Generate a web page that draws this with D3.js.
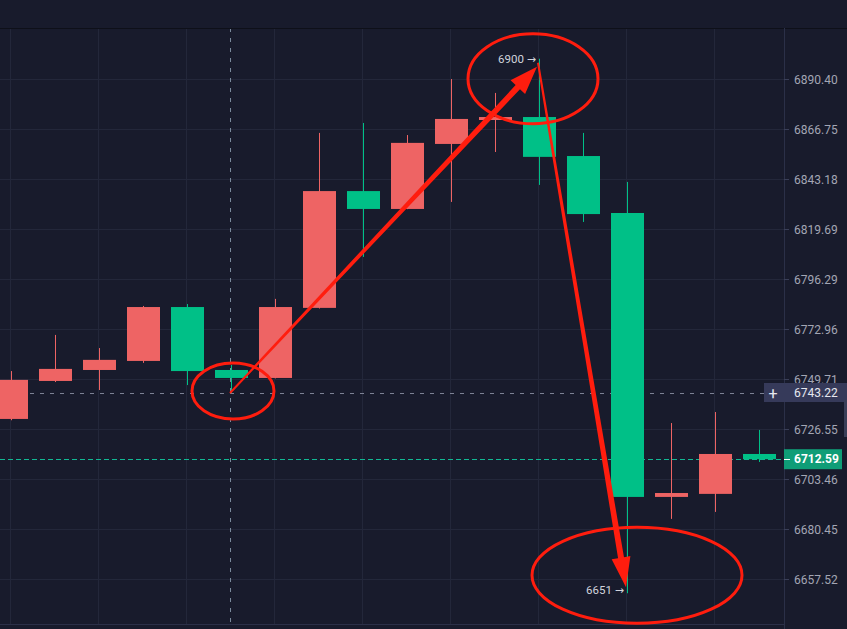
<!DOCTYPE html>
<html><head><meta charset="utf-8">
<script src="https://cdn.jsdelivr.net/npm/d3@7/dist/d3.min.js"></script>
<style>
html,body{margin:0;padding:0;background:#181b2c;overflow:hidden;}
svg{display:block;}
text{font-family:Roboto,"Noto Sans",sans-serif;}
</style></head>
<body>
<script>
// ---- data ----
const opens  = [6731.2, 6748.8, 6753.9, 6758.1, 6783.2, 6753.9, 6750.2, 6782.8, 6837.5, 6829.1, 6859.7, 6871.0, 6872.4, 6854.0, 6827.2, 6695.2, 6696.6, 6715.0];
const highs  = [6753.4, 6770.2, 6764.1, 6783.7, 6784.6, 6756.2, 6787.0, 6864.9, 6869.6, 6863.9, 6890.4, 6883.8, 6900.0, 6864.9, 6841.8, 6729.3, 6734.4, 6726.1];
const lows   = [6730.6, 6748.3, 6744.6, 6757.2, 6746.9, 6743.2, 6750.0, 6782.5, 6806.6, 6829.0, 6832.4, 6855.9, 6840.4, 6823.0, 6651.0, 6685.1, 6688.3, 6711.3];
const closes = [6749.3, 6754.4, 6758.6, 6783.2, 6753.4, 6750.2, 6783.2, 6837.5, 6829.1, 6860.2, 6871.5, 6872.4, 6853.6, 6826.7, 6695.2, 6697.0, 6715.0, 6712.59];
const tickLabels = ["6890.40","6866.75","6843.18","6819.69","6796.29","6772.96","6749.71","6726.55","6703.46","6680.45","6657.52"];
const markerPrice = 6743.22;
const lastPrice = 6712.59;
const highNote = {index: 12, price: 6900, label: "6900"};
const lowNote  = {index: 14, price: 6651, label: "6651"};
const crossIndex = 5;

const W = 847, H = 629;
const plot = {left: 0, top: 28, right: 784, bottom: 624};
const tickValues = tickLabels.map(Number);

const svg = d3.select("body").append("svg").attr("width", W).attr("height", H);
svg.append("rect").attr("width", W).attr("height", H).attr("fill", "#181b2c");

const y = d3.scaleLog().domain([tickValues[tickValues.length-1], tickValues[0]]).range([579, 79]);
const x = d3.scaleLinear().domain([0, 1]).range([11, 55]);
const step = x(1) - x(0);
const bodyW = Math.round(step * 0.75);

svg.append("clipPath").attr("id", "clip").append("rect")
  .attr("x", plot.left).attr("y", plot.top).attr("width", plot.right - plot.left).attr("height", plot.bottom - plot.top);
const g = svg.append("g").attr("clip-path", "url(#clip)");

// grid
g.selectAll(".hg").data(tickValues).join("line")
  .attr("x1", plot.left).attr("x2", plot.right)
  .attr("y1", d => Math.round(y(d)) + 0.5).attr("y2", d => Math.round(y(d)) + 0.5)
  .attr("stroke", "#23273a").attr("stroke-width", 1);
const vIdx = d3.range(0, opens.length, 2);
g.selectAll(".vg").data(vIdx).join("line")
  .attr("x1", d => Math.round(x(d)) - 0.5).attr("x2", d => Math.round(x(d)) - 0.5)
  .attr("y1", plot.top).attr("y2", plot.bottom)
  .attr("stroke", "#23273a").attr("stroke-width", 1);

// price lines
g.append("line").attr("x1", 0).attr("x2", plot.right)
  .attr("y1", Math.round(y(markerPrice)) + 0.5).attr("y2", Math.round(y(markerPrice)) + 0.5)
  .attr("stroke", "#7d8295").attr("stroke-width", 1).attr("stroke-dasharray", "4,6");
g.append("line").attr("x1", 0).attr("x2", plot.right)
  .attr("y1", Math.round(y(lastPrice)) + 0.5).attr("y2", Math.round(y(lastPrice)) + 0.5)
  .attr("stroke", "#12b894").attr("stroke-width", 1).attr("stroke-dasharray", "5,3");
// crosshair
g.append("line").attr("x1", Math.round(x(crossIndex)) - 0.5).attr("x2", Math.round(x(crossIndex)) - 0.5)
  .attr("y1", plot.top).attr("y2", plot.bottom)
  .attr("stroke", "#7a8a9c").attr("stroke-width", 1).attr("stroke-dasharray", "4,6");

// candles
const UP = "#ee6464", DOWN = "#00c087";
const data = opens.map((o, i) => ({i, o, h: highs[i], l: lows[i], c: closes[i]}));
const cg = g.selectAll(".c").data(data).join("g");
cg.append("line")
  .attr("x1", d => Math.round(x(d.i)) + 0.5).attr("x2", d => Math.round(x(d.i)) + 0.5)
  .attr("y1", d => y(d.h)).attr("y2", d => y(d.l))
  .attr("stroke", d => d.c >= d.o ? UP : DOWN).attr("stroke-width", 1);
cg.append("rect")
  .attr("x", d => Math.round(x(d.i)) + 0.5 - bodyW / 2)
  .attr("width", bodyW)
  .attr("y", d => y(Math.max(d.o, d.c)))
  .attr("height", d => Math.max(2, y(Math.min(d.o, d.c)) - y(Math.max(d.o, d.c))))
  .attr("fill", d => d.c >= d.o ? UP : DOWN);

// frame lines
svg.append("line").attr("x1", 0).attr("x2", W).attr("y1", plot.top + 0.5).attr("y2", plot.top + 0.5).attr("stroke", "#0e1019");
svg.append("line").attr("x1", 0).attr("x2", plot.right).attr("y1", plot.bottom + 0.5).attr("y2", plot.bottom + 0.5).attr("stroke", "#2b3048");
svg.append("line").attr("x1", plot.right + 0.5).attr("x2", plot.right + 0.5).attr("y1", plot.top).attr("y2", H).attr("stroke", "#2b3048");

// axis
const axis = svg.append("g");
tickValues.forEach((v, k) => {
  const yy = Math.round(y(v)) + 0.5;
  axis.append("line").attr("x1", plot.right).attr("x2", plot.right + 5).attr("y1", yy).attr("y2", yy).attr("stroke", "#3a3f58");
  axis.append("text").attr("x", 794).attr("y", yy).attr("dy", "0.35em")
    .attr("font-size", 12).attr("fill", "#a3a6b4").text(tickLabels[k]);
});

// marker label (grey)
const my = y(markerPrice);
axis.append("rect").attr("x", 764).attr("y", my - 10).attr("width", W - 764).attr("height", 19).attr("fill", "#363a5a");
axis.append("text").attr("x", 773).attr("y", my).attr("dy", "0.36em").attr("text-anchor", "middle")
  .attr("font-size", 16).attr("fill", "#e6e8f0").text("+");
axis.append("text").attr("x", 794).attr("y", my).attr("dy", "0.35em")
  .attr("font-size", 12).attr("fill", "#e6e8f0").text(markerPrice.toFixed(2));
// last price label (green)
const ly = y(lastPrice);
axis.append("rect").attr("x", 784).attr("y", ly - 10).attr("width", 58).attr("height", 20).attr("fill", "#0f9d77");
axis.append("line").attr("x1", 784).attr("x2", 790).attr("y1", Math.round(ly) + 0.5).attr("y2", Math.round(ly) + 0.5).attr("stroke", "#ffffff");
axis.append("text").attr("x", 794).attr("y", ly).attr("dy", "0.35em")
  .attr("font-size", 12).attr("font-weight", "bold").attr("fill", "#ffffff").text(lastPrice.toFixed(2));
axis.append("rect").attr("x", 844).attr("y", 400).attr("width", 3).attr("height", 37).attr("fill", "#3a3f58");

// high/low notes
const ann = svg.append("g");
function note(n, dy) {
  const t = ann.append("text").attr("x", x(n.index) - 3).attr("y", y(n.price)).attr("dy", dy)
    .attr("text-anchor", "end").attr("font-size", 11.5).attr("fill", "#d1d4dc");
  t.append("tspan").text(n.label + " ");
  t.append("tspan").attr("font-family", "DejaVu Sans").attr("font-size", 11).text("→");
}
note(highNote, "0.35em");
note(lowNote, "0.1em");

// red hand annotations
const RED = "#ff1d0e";
function ell(cx, cy, rx, ry) {
  ann.append("ellipse").attr("cx", cx).attr("cy", cy).attr("rx", rx).attr("ry", ry)
    .attr("fill", "none").attr("stroke", RED).attr("stroke-width", 3);
}
ell(x(crossIndex) + 2, y(markerPrice) - 2, 41, 28);
ell(x(highNote.index) - 6, y(highNote.price) + 20, 65, 45);
ell(x(lowNote.index) + 10, y(lowNote.price) - 18, 105, 48);

function arrow(sx, sy, tx, ty, w0, w1, hl, hw) {
  const dx = tx - sx, dy = ty - sy, L = Math.hypot(dx, dy);
  const ux = dx / L, uy = dy / L, nx = -uy, ny = ux;
  const bx = tx - ux * hl, by = ty - uy * hl;
  const pts = [
    [sx + nx * w0 / 2, sy + ny * w0 / 2],
    [bx + nx * w1 / 2, by + ny * w1 / 2],
    [bx + nx * hw / 2, by + ny * hw / 2],
    [tx, ty],
    [bx - nx * hw / 2, by - ny * hw / 2],
    [bx - nx * w1 / 2, by - ny * w1 / 2],
    [sx - nx * w0 / 2, sy - ny * w0 / 2]
  ];
  ann.append("path").attr("d", d3.line()(pts) + "Z").attr("fill", RED);
}
arrow(x(crossIndex) - 1, y(markerPrice), x(highNote.index) - 2, y(highNote.price) + 8, 2, 6, 28, 20);
arrow(x(highNote.index) - 1, y(highNote.price) + 4, x(lowNote.index) - 1, y(lowNote.price) - 6, 2, 6, 30, 19);
</script>
</body></html>
